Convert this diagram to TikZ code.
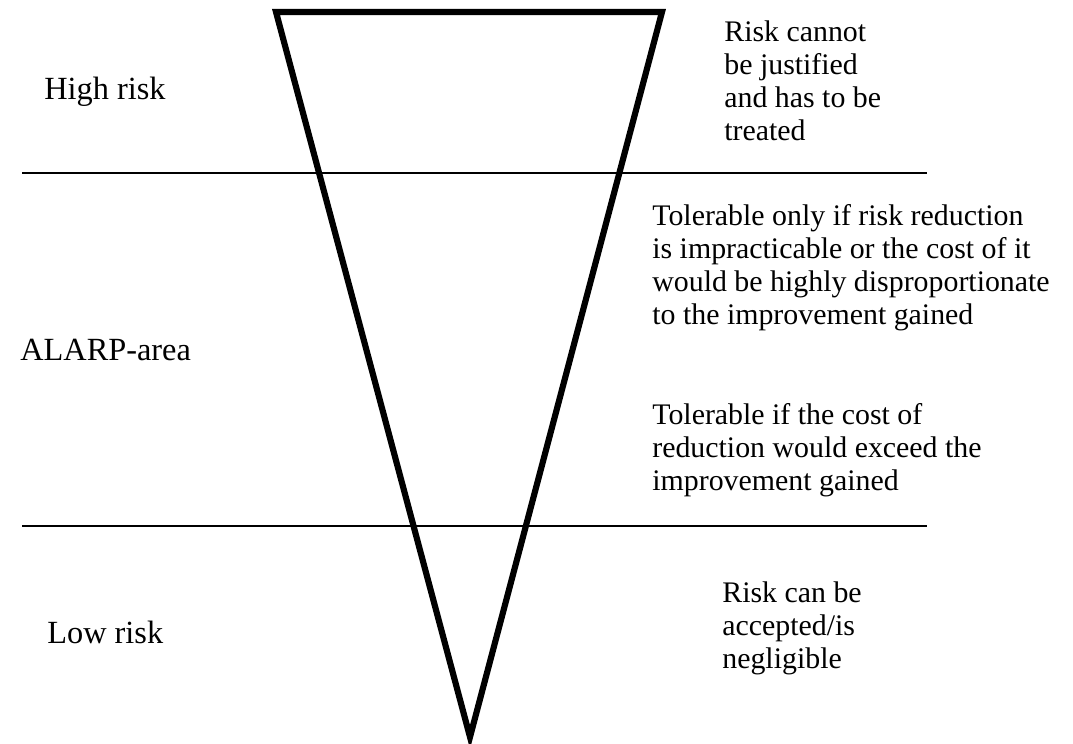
\documentclass[tikz,border=0pt]{standalone}
\usepackage{fontspec}
\setmainfont{Liberation Serif}
\begin{document}
\begin{tikzpicture}[x=0.02cm, y=-0.02cm,
    zonelabel/.style={anchor=west, inner sep=0pt, font=\fontsize{18.4}{22}\selectfont},
    notelabel/.style={anchor=west, align=left, inner sep=0pt, font=\fontsize{17}{18.8}\selectfont}]
        % Fix the page size
        \useasboundingbox (0, 0) rectangle (1073, 744);

        % The inverted triangle
        \draw[line width=3.5pt, line join=miter] (276, 12) -- (662, 12) -- (470, 737) -- cycle;

        % Draw the lines that split the zones
        \draw[line width=1.4pt] (22, 173) -- (927, 173);
        \draw[line width=1.4pt] (22, 526) -- (927, 526);

        % Label the zones
        \node[zonelabel] (high) at (44, 92) {High risk};
        \node[zonelabel] (alarp) at (20, 350) {ALARP-area};
        \node[zonelabel] (low) at (47, 632) {Low risk};

        % Notes on the right
        \node[notelabel] (hightxt) at (724, 81) {Risk cannot\\be justified\\and has to be\\treated};
        \node[notelabel] (alarptxt) at (652, 268) {Tolerable only if risk reduction\\is impracticable or the cost of it\\would be highly disproportionate\\to the improvement gained};
        \node[notelabel] (costtxt) at (652, 450) {Tolerable if the cost of\\reduction would exceed the\\improvement gained};
        \node[notelabel] (lowtxt) at (722, 628) {Risk can be\\accepted/is\\negligible};
    \end{tikzpicture}
\end{document}
